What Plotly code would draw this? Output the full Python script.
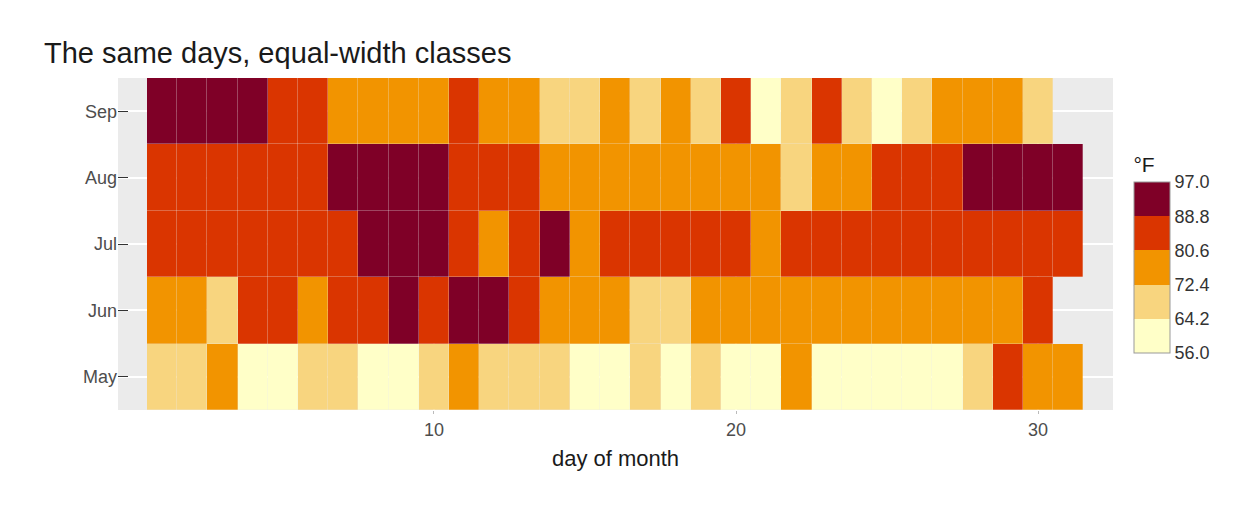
import plotly.graph_objects as go

# daily max temperature (°F), May-Sep, one list per month
days = list(range(1, 32))
months = ["May", "Jun", "Jul", "Aug", "Sep"]

temp_may = [67, 72, 74, 62, 56, 66, 65, 59, 61, 69, 74, 69, 66, 68, 58, 64,
            66, 57, 68, 62, 59, 73, 61, 61, 57, 58, 57, 67, 81, 79, 76]
temp_jun = [78, 74, 67, 84, 85, 79, 82, 87, 90, 87, 93, 92, 82, 80, 79, 77,
            72, 65, 73, 76, 77, 76, 76, 76, 75, 78, 73, 80, 77, 83, None]
temp_jul = [84, 85, 81, 84, 83, 83, 88, 92, 92, 89, 82, 73, 81, 91, 80, 81,
            82, 84, 87, 85, 74, 81, 82, 86, 85, 82, 86, 88, 86, 83, 81]
temp_aug = [81, 81, 82, 86, 85, 87, 89, 90, 90, 92, 86, 86, 82, 80, 79, 77,
            79, 76, 78, 78, 77, 72, 75, 79, 81, 86, 88, 97, 94, 96, 94]
temp_sep = [91, 92, 93, 93, 87, 84, 80, 78, 75, 73, 81, 76, 77, 71, 71, 78,
            67, 76, 68, 82, 64, 71, 81, 69, 63, 70, 77, 75, 76, 68, None]

# equal-width class breaks and their colours
breaks = [56.0, 64.2, 72.4, 80.6, 88.8, 97.0]
class_colors = ["#FFFFC8", "#F8D57F", "#F29400", "#DA3500", "#7F0027"]

zmin, zmax = breaks[0], breaks[-1]
cscale = []
for i, c in enumerate(class_colors):
    lo = (breaks[i] - zmin) / (zmax - zmin)
    hi = (breaks[i + 1] - zmin) / (zmax - zmin)
    cscale.append([lo, c])
    cscale.append([hi, c])

z = [temp_may, temp_jun, temp_jul, temp_aug, temp_sep]

font = "Liberation Sans, Arial, sans-serif"

# plot area and legend geometry (pixels, figure coords)
plot_top, plot_bot = 70, 402
plot_h = plot_bot - plot_top
leg_top, leg_bot = 176, 345
leg_len = leg_bot - leg_top
leg_x = 1.021
leg_w = 36

fig = go.Figure(go.Heatmap(
    x=days, y=months, z=z,
    zmin=zmin, zmax=zmax, colorscale=cscale,
    xgap=0.3, ygap=0.3,
    hovertemplate="day %{x}, %{y}: %{z}°F<extra></extra>",
    colorbar=dict(
        title=dict(text="°F", side="top", font=dict(size=21, color="#1a1a1a")),
        tickvals=breaks, ticktext=[f"{b:.1f}" for b in breaks],
        ticks="", ticklabelposition="outside",
        tickfont=dict(size=18, color="#333333"),
        thickness=leg_w, thicknessmode="pixels",
        len=leg_len + 30, lenmode="pixels",
        x=leg_x, xanchor="left", xpad=0,
        y=(plot_bot - leg_bot) / plot_h, yanchor="bottom", ypad=0,
        outlinecolor="#999999", outlinewidth=1,
    ),
))

# thin separators between legend classes
for b in breaks[1:-1]:
    frac = (b - zmin) / (zmax - zmin)
    yp = (plot_bot - (leg_bot - frac * leg_len)) / plot_h
    fig.add_shape(type="line", xref="paper", yref="paper",
                  x0=leg_x, x1=leg_x + leg_w / 995, y0=yp, y1=yp,
                  line=dict(color="#999999", width=1))

fig.update_layout(
    width=1260, height=510,
    margin=dict(l=110, r=155, t=70, b=108),
    paper_bgcolor="white", plot_bgcolor="#EBEBEB",
    font=dict(family=font, color="#1a1a1a"),
    title=dict(text="The same days, equal-width classes",
               x=36 / 1260, xanchor="left", y=1 - 45 / 510, yanchor="middle",
               font=dict(size=29, color="#1a1a1a")),
)
fig.update_xaxes(
    range=[-0.46, 32.48], tickvals=[10, 20, 30],
    ticks="outside", ticklen=3, tickcolor="#BBBBBB",
    tickfont=dict(size=18, color="#4D4D4D"),
    showgrid=True, gridcolor="white", gridwidth=1.5,
    zeroline=False, showline=False,
    title=dict(text="day of month", font=dict(size=22, color="#1a1a1a"), standoff=12),
)
fig.update_yaxes(
    categoryorder="array", categoryarray=months,
    range=[-0.5, 4.5],
    ticks="inside", ticklen=10, tickcolor="#333333",
    tickfont=dict(size=18, color="#4D4D4D"),
    showgrid=True, gridcolor="white", gridwidth=1.5,
    zeroline=False, showline=False,
)

fig.write_html("out.html")
